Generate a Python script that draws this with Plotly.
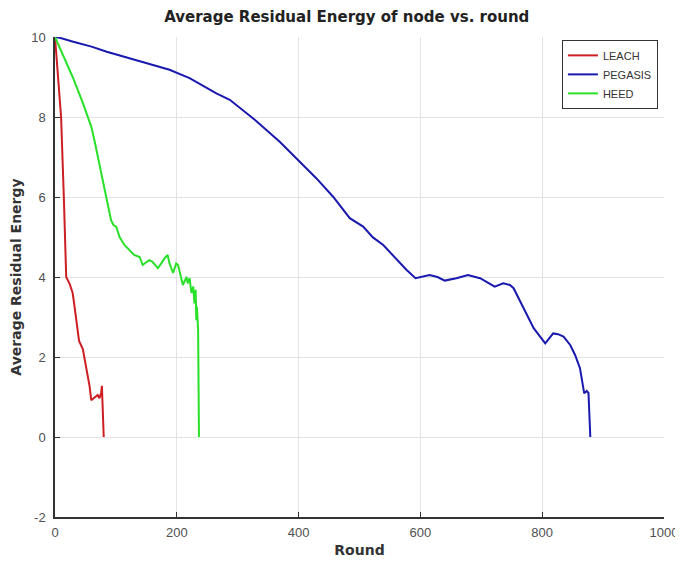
import plotly.graph_objects as go

leach_round = [0, 2, 5, 10, 14.5, 18.4, 24, 29, 32, 37.5, 39.5, 45.7, 51, 56.7, 59.5, 65, 70, 73, 76, 77, 78, 80]
leach_energy = [10, 9.6, 9.0, 8.0, 6.0, 4.0, 3.83, 3.6, 3.27, 2.6, 2.4, 2.2, 1.77, 1.28, 0.92, 0.98, 1.05, 0.97, 1.12, 1.28, 0.95, 0]

pegasis_round = [0, 8, 30, 60, 85, 120, 160, 188, 221, 265, 287, 328, 369, 399, 429, 457, 484, 506, 522,
                 539, 561, 577, 592, 600, 615, 628, 640, 659, 678, 698, 712, 722, 736, 747, 753, 766, 786,
                 805, 818, 826, 835, 846, 854, 862, 869, 873, 876, 879]
pegasis_energy = [10, 9.98, 9.88, 9.76, 9.63, 9.48, 9.3, 9.18, 8.97, 8.59, 8.43, 7.93, 7.38, 6.93, 6.47, 6.0,
                  5.47, 5.26, 4.99, 4.8, 4.43, 4.18, 3.97, 4.0, 4.05, 4.0, 3.91, 3.97, 4.05, 3.97, 3.85, 3.76,
                  3.84, 3.8, 3.72, 3.34, 2.72, 2.34, 2.59, 2.57, 2.51, 2.3, 2.05, 1.72, 1.09, 1.15, 1.1, 0]

heed_round = [0, 29, 46, 59.5, 65, 73, 81, 89.6, 92, 96, 100.6, 106, 114, 122, 130, 139, 144, 151, 155, 160,
              169, 174.5, 180, 185, 188, 194, 199, 202, 207, 210, 216, 218, 221, 224, 227, 229, 231, 232,
              233, 234, 235, 236.4]
heed_energy = [10, 9.0, 8.34, 7.76, 7.4, 6.84, 6.26, 5.6, 5.42, 5.3, 5.26, 5.0, 4.8, 4.68, 4.55, 4.5, 4.3,
               4.38, 4.42, 4.38, 4.22, 4.34, 4.47, 4.55, 4.34, 4.1, 4.34, 4.3, 4.0, 3.8, 4.0, 3.84, 3.97,
               3.6, 3.76, 3.34, 3.68, 2.92, 3.26, 2.85, 2.67, 0]

x_ticks = [0, 200, 400, 600, 800, 1000]
x_tick_labels = ["0", "200", "400", "600", "800", "1000"]
y_ticks = [-2, 0, 2, 4, 6, 8, 10]
y_tick_labels = ["-2", "0", "2", "4", "6", "8", "10"]

FONT = "Liberation Sans, Arial, sans-serif"
BOLD = "DejaVu Sans, Liberation Sans, sans-serif"

fig = go.Figure()
fig.add_trace(go.Scatter(x=leach_round, y=leach_energy, mode="lines", name="LEACH",
                         line=dict(color="rgb(205,30,35)", width=2)))
fig.add_trace(go.Scatter(x=pegasis_round, y=pegasis_energy, mode="lines", name="PEGASIS",
                         line=dict(color="rgb(25,25,175)", width=2)))
fig.add_trace(go.Scatter(x=heed_round, y=heed_energy, mode="lines", name="HEED",
                         line=dict(color="rgb(40,225,40)", width=2)))

axis_common = dict(showgrid=True, gridcolor="#e3e3e3", gridwidth=1, zeroline=False,
                   showline=True, linecolor="#333333", linewidth=1.5,
                   ticks="inside", ticklen=5, tickcolor="#333333", automargin=False,
                   tickfont=dict(family=FONT, size=13, color="#505050"))

# the page body has an 8px margin, so the margins are shifted to compensate
fig.update_layout(
    width=683, height=561,
    margin=dict(l=47, r=27, t=29, b=52, autoexpand=False),
    paper_bgcolor="white", plot_bgcolor="white",
    title=dict(text="<b>Average Residual Energy of node vs. round</b>", x=0.496, xanchor="center",
               y=0.985, yanchor="middle",
               font=dict(family=BOLD, size=15, color="#222222")),
    xaxis=dict(range=[0, 1000], tickvals=x_ticks, ticktext=x_tick_labels, ticklabelstandoff=3,
               title=dict(text="<b>Round</b>", standoff=6,
                          font=dict(family=BOLD, size=14, color="#333333")),
               **axis_common),
    yaxis=dict(range=[-2, 10], tickvals=y_ticks, ticktext=y_tick_labels, ticklabelstandoff=5,
               title=dict(text="<b>Average Residual Energy</b>", standoff=6,
                          font=dict(family=BOLD, size=14, color="#333333")),
               **axis_common),
    legend=dict(x=0.99, y=0.994, xanchor="right", yanchor="top",
                bgcolor="white", bordercolor="#333333", borderwidth=1,
                font=dict(family=FONT, size=11, color="#333333"),
                tracegroupgap=0, itemwidth=30),
    showlegend=True,
)

fig.write_html("out.html")
